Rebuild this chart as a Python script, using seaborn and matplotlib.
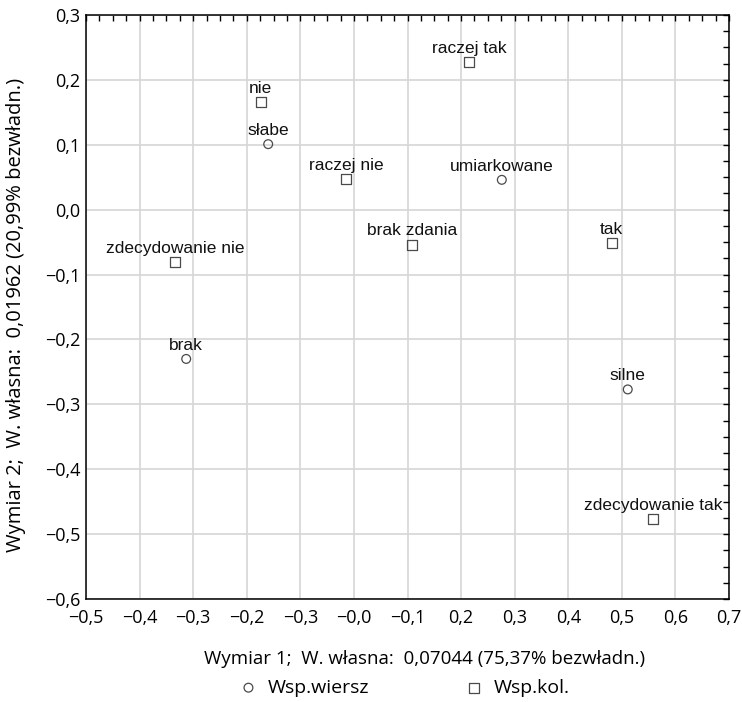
import pandas as pd
import matplotlib
matplotlib.use("Agg")
from matplotlib import pyplot as plt
from matplotlib.ticker import MultipleLocator
import seaborn as sns

# row coordinates (Wsp.wiersz) and column coordinates (Wsp.kol.)
row_labels = ["słabe", "umiarkowane", "brak", "silne"]
row_x = [-0.160, 0.276, -0.313, 0.511]
row_y = [0.101, 0.046, -0.230, -0.277]

col_labels = ["nie", "raczej tak", "raczej nie", "brak zdania", "tak",
              "zdecydowanie nie", "zdecydowanie tak"]
col_x = [-0.174, 0.215, -0.015, 0.108, 0.481, -0.334, 0.558]
col_y = [0.166, 0.227, 0.047, -0.054, -0.051, -0.081, -0.477]

x_ticks = [-0.5, -0.4, -0.3, -0.2, -0.1, 0.0, 0.1, 0.2, 0.3, 0.4, 0.5, 0.6, 0.7]
x_tick_labels = ["−0,5", "−0,4", "−0,3", "−0,2", "−0,3", "−0,0", "−0,1",
                 "0,2", "0,3", "0,4", "0,5", "0,6", "0,7"]
y_ticks = [0.3, 0.2, 0.1, 0.0, -0.1, -0.2, -0.3, -0.4, -0.5, -0.6]
y_tick_labels = ["0,3", "0,2", "0,1", "0,0", "−0,1", "−0,2", "−0,3", "−0,4", "−0,5", "−0,6"]

rows = pd.DataFrame({"x": row_x, "y": row_y, "label": row_labels})
cols = pd.DataFrame({"x": col_x, "y": col_y, "label": col_labels})

sns.set_style("white")
plt.rcParams["font.family"] = ["Open Sans", "DejaVu Sans"]
plt.rcParams["text.color"] = "black"
plt.rcParams["axes.labelcolor"] = "black"
plt.rcParams["xtick.color"] = "black"
plt.rcParams["ytick.color"] = "black"

fig = plt.figure(figsize=(7.42, 7.02), dpi=100)
ax = fig.add_axes([0.1159, 0.1467, 0.8666, 0.8319])

edge = "#4a4a4a"
sns.scatterplot(data=rows, x="x", y="y", marker="o", s=40, facecolor="none",
                edgecolor=edge, linewidth=0.9, ax=ax, label="Wsp.wiersz", zorder=3)
sns.scatterplot(data=cols, x="x", y="y", marker="s", s=52, facecolor="none",
                edgecolor=edge, linewidth=0.9, ax=ax, label="Wsp.kol.", zorder=3)

for df in (rows, cols):
    for _, r in df.iterrows():
        ax.annotate(r["label"], (r["x"], r["y"]), xytext=(0, 4.5),
                    textcoords="offset points", ha="center", va="bottom",
                    fontsize=12.5, family=["Liberation Sans", "DejaVu Sans"],
                    color="#111111", zorder=4)

ax.set_xlim(-0.5, 0.7)
ax.set_ylim(-0.6, 0.3)
ax.set_xticks(x_ticks)
ax.set_xticklabels(x_tick_labels)
ax.set_yticks(y_ticks)
ax.set_yticklabels(y_tick_labels)
ax.xaxis.set_minor_locator(MultipleLocator(0.025))
ax.yaxis.set_minor_locator(MultipleLocator(0.025))
ax.tick_params(which="both", direction="in", top=True, right=True,
               length=4, width=1, color="black", labelsize=13)
ax.tick_params(axis="x", pad=7)
ax.tick_params(axis="y", pad=4)
ax.grid(True, which="major", color="#d6d6d6", linewidth=1.2)
ax.set_axisbelow(True)
for sp in ax.spines.values():
    sp.set_color("black")
    sp.set_linewidth(1.1)

ax.set_xlabel("Wymiar 1;  W. własna:  0,07044 (75,37% bezwładn.)", fontsize=13.5)
ax.set_ylabel("Wymiar 2;  W. własna:  0,01962 (20,99% bezwładn.)", fontsize=14.5)
ax.xaxis.set_label_coords(0.526, -0.088)
ax.yaxis.set_label_coords(-0.094, 0.486)

ax.legend(loc="center", bbox_to_anchor=(0.495, -0.152), ncol=2, frameon=False,
          fontsize=14, columnspacing=4.9, handlelength=1.0, handletextpad=0.5)

fig.savefig("out.png", dpi=100)
